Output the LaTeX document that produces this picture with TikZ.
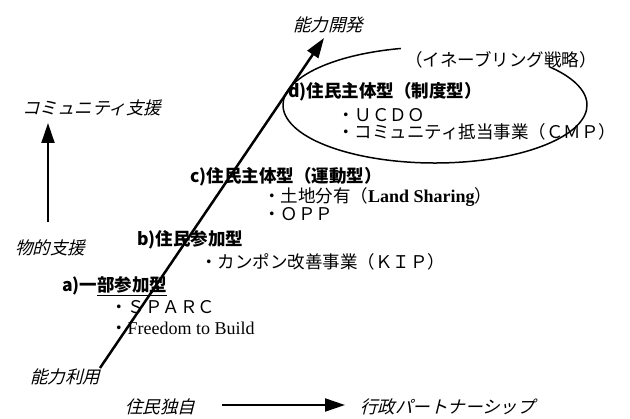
\documentclass[tikz,border=0pt]{standalone}
\usepackage{fontspec}
\setmainfont{Liberation Serif}
\newfontfamily\jp{Noto Sans CJK JP}
\newfontfamily\jpit{Noto Sans CJK JP}[FakeSlant=0.25]
\usetikzlibrary{arrows.meta}
\begin{document}
\begin{tikzpicture}[x=1pt,y=-1pt,
  lbl/.style={inner sep=0pt, anchor=west, font=\jpit\fontsize{17.5}{19}\selectfont},
  head/.style={inner sep=0pt, anchor=west, font=\jp\bfseries\fontsize{17.5}{19}\selectfont},
  item/.style={inner sep=0pt, anchor=west, font=\jp\fontsize{17.5}{19}\selectfont},
  latin/.style={font=\rmfamily\fontsize{18}{19}\selectfont},
  arr/.style={line width=2pt, -{Triangle[length=20pt,width=13pt]}},
]
\useasboundingbox (0,0) rectangle (630,419);
% axis labels
\node[lbl] (kaihatsu) at (293,25) {能力開発};
\node[lbl] (riyou) at (30,377) {能力利用};
\node[lbl] (comm) at (22,108) {コミュニティ支援};
\node[lbl] (butsu) at (15,248) {物的支援};
\node[lbl] (dokuji) at (125,407) {住民独自};
\node[lbl] (gyosei) at (360,407) {行政パートナーシップ};
% axes
\coordinate (vlo) at (48,222);
\coordinate (vhi) at (48,123);
\draw[arr] (vlo) -- (vhi);
\coordinate (hlo) at (222,405);
\coordinate (hhi) at (345,405);
\draw[arr] (hlo) -- (hhi);
\coordinate (dlo) at (100,368);
\coordinate (dhi) at (324,38);
\draw[arr, line width=2.5pt] (dlo) -- (dhi);
% enabling strategy ellipse
\coordinate (ec) at (435,105);
\draw[line width=1.5pt] (ec) ++(-103:152 and 58) arc[start angle=-103, end angle=-401, x radius=152, y radius=58];
\node[item] (enab) at (405,60) {（イネーブリング戦略）};
% d)
\node[head] (d) at (288,92) {d)住民主体型（制度型）};
\node[item] (d1) at (337,115) {・ＵＣＤＯ};
\node[item] (d2) at (337,132) {・コミュニティ抵当事業（ＣＭＰ）};
% c)
\node[head] (c) at (190,177) {c)住民主体型（運動型）};
\node[item] (c1) at (263,197) {・土地分有（{\rmfamily\bfseries\fontsize{18}{19}\selectfont Land Sharing}）};
\node[item] (c2) at (263,214) {・ＯＰＰ};
% b)
\node[head] (b) at (137,240) {b)住民参加型};
\node[item] (b1) at (200,262) {・カンポン改善事業（ＫＩＰ）};
% a)
\node[head] (a) at (62,286) {a)一\underline{部参加型}};
\node[item] (a1) at (110,307) {・ＳＰＡＲＣ};
\node[item] (a2) at (110,328) {・{\rmfamily\fontsize{18}{19}\selectfont Freedom to Build}};
\end{tikzpicture}
\end{document}
